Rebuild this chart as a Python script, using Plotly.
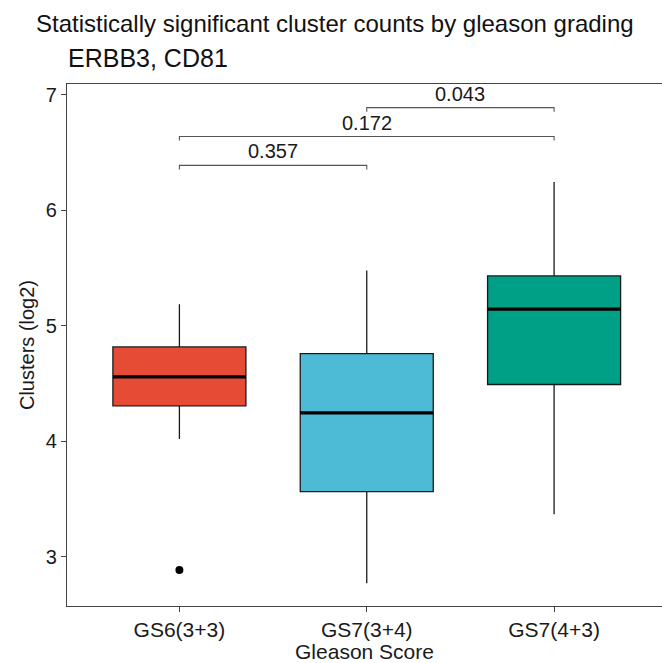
import plotly.graph_objects as go

# ---- data ----
groups = ["GS6(3+3)", "GS7(3+4)", "GS7(4+3)"]
q1 = [4.307, 3.563, 4.492]
median = [4.558, 4.246, 5.144]
q3 = [4.817, 4.760, 5.432]
lower = [4.019, 2.770, 3.367]
upper = [5.187, 5.480, 6.245]
colors = ["#E64B35", "#4DBBD5", "#00A087"]
outlier_group = [0]
outlier_value = [2.885]

comp_from = [0, 0, 1]
comp_to = [1, 2, 2]
comp_label = ["0.357", "0.172", "0.043"]
comp_y = [6.39, 6.64, 6.89]

yticks = [3, 4, 5, 6, 7]

title = "Statistically significant cluster counts by gleason grading"
subtitle = "ERBB3, CD81"
xlab = "Gleason Score"
ylab = "Clusters (log2)"

BOX_W = 0.71
TIP = 0.035
FONT = "Liberation Sans, Arial, sans-serif"

fig = go.Figure()
for i, g in enumerate(groups):
    fig.add_trace(go.Box(
        x=[i], q1=[q1[i]], median=[median[i]], q3=[q3[i]],
        lowerfence=[lower[i]], upperfence=[upper[i]],
        width=BOX_W, whiskerwidth=0, fillcolor=colors[i],
        line=dict(color="#1a1a1a", width=1.3), boxpoints=False,
        showlegend=False, hoverinfo="skip", name=g))
    fig.add_trace(go.Scatter(
        x=[i - BOX_W / 2, i + BOX_W / 2], y=[median[i], median[i]],
        mode="lines", line=dict(color="black", width=3.2),
        showlegend=False, hoverinfo="skip"))

fig.add_trace(go.Scatter(
    x=outlier_group, y=outlier_value, mode="markers",
    marker=dict(color="black", size=8), showlegend=False, hoverinfo="skip"))

for a, b, lab, yv in zip(comp_from, comp_to, comp_label, comp_y):
    fig.add_trace(go.Scatter(
        x=[a, a, b, b], y=[yv - TIP, yv, yv, yv - TIP], mode="lines",
        line=dict(color="#555555", width=1.1), showlegend=False, hoverinfo="skip"))
    fig.add_annotation(x=(a + b) / 2, y=yv, text=lab, showarrow=False,
                       yanchor="bottom", yshift=1,
                       font=dict(size=20, color="#1a1a1a", family=FONT))

W, H = 662, 663
L, R, T, B = 67, 0, 84, 57
pw = W - L - R
ph = H - T - B

def px_x(px):
    return (px - L) / pw

def px_y(py):
    return (H - B - py) / ph

fig.add_annotation(xref="paper", yref="paper", x=px_x(34), y=px_y(24),
                   xanchor="left", yanchor="middle", showarrow=False, text=title,
                   font=dict(size=24, color="#111111", family=FONT))
fig.add_annotation(xref="paper", yref="paper", x=px_x(66), y=px_y(58),
                   xanchor="left", yanchor="middle", showarrow=False, text=subtitle,
                   font=dict(size=25, color="#111111", family=FONT))

fig.update_layout(
    width=W, height=H,
    margin=dict(l=L, r=R, t=T, b=B),
    plot_bgcolor="white", paper_bgcolor="white",
    font=dict(family=FONT, size=20, color="#1a1a1a"),
    xaxis=dict(
        range=[-0.6, 2 + (W - 554) / 187.5],
        tickmode="array", tickvals=list(range(len(groups))), ticktext=groups,
        showgrid=False, zeroline=False,
        showline=True, mirror=True, linecolor="#444444", linewidth=1.3,
        ticks="outside", ticklen=5, tickcolor="#444444", tickwidth=1.2,
        tickfont=dict(size=21, color="#1a1a1a"),
        title=dict(text=xlab, font=dict(size=21, color="#1a1a1a"), standoff=3),
    ),
    yaxis=dict(
        range=[2.573, 7.095],
        tickmode="array", tickvals=yticks,
        showgrid=False, zeroline=False,
        showline=True, mirror=False, linecolor="#444444", linewidth=1.3,
        ticks="outside", ticklen=5, tickcolor="#444444", tickwidth=1.2,
        tickfont=dict(size=20, color="#1a1a1a"),
        title=dict(text=ylab, font=dict(size=20, color="#1a1a1a"), standoff=5),
    ),
)

fig.write_html("out.html")
